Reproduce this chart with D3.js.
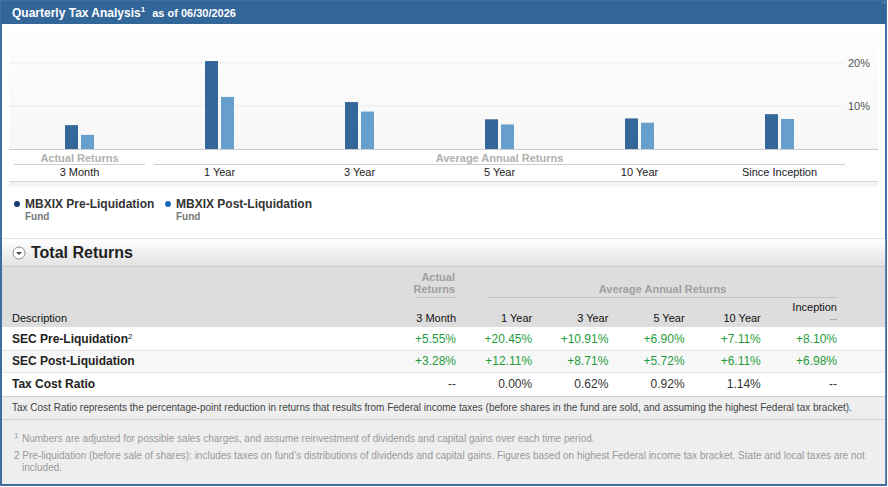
<!DOCTYPE html>
<html>
<head>
<meta charset="utf-8">
<script src="https://cdn.jsdelivr.net/npm/d3@7"></script>
<style>
body { margin:0; background:#fff; }
svg text { font-family: "Liberation Sans", Arial, sans-serif; }
</style>
</head>
<body>
<div id="chart"></div>
<script>
// values
const categories = ['3 Month','1 Year','3 Year','5 Year','10 Year','Since Inception'];
const preLiq  = [5.55, 20.45, 10.91, 6.90, 7.11, 8.10];
const postLiq = [3.28, 12.11, 8.71, 5.72, 6.11, 6.98];
const taxCost = [null, 0.00, 0.62, 0.92, 1.14, null];
const tableCols = ['3 Month','1 Year','3 Year','5 Year','10 Year','Inception'];
const yTicks = [10, 20];
const seriesNames = ['MBXIX Pre-Liquidation','MBXIX Post-Liquidation'];

const width = 888, height = 487;
const blue = '#336699', lightBlue = '#669ecc';

const svg = d3.select('#chart').append('svg')
    .attr('width', width).attr('height', height);

const defs = svg.append('defs');
let g1 = defs.append('linearGradient').attr('id','secGrad').attr('x1',0).attr('x2',0).attr('y1',0).attr('y2',1);
g1.append('stop').attr('offset','0%').attr('stop-color','#ffffff');
g1.append('stop').attr('offset','100%').attr('stop-color','#e2e2e2');
let g2 = defs.append('linearGradient').attr('id','plotGrad').attr('x1',0).attr('x2',0).attr('y1',0).attr('y2',1);
g2.append('stop').attr('offset','0%').attr('stop-color','#fdfdfd');
g2.append('stop').attr('offset','100%').attr('stop-color','#f7f7f7');

// frame + header
svg.append('rect').attr('x',1).attr('y',1).attr('width',width-3).attr('height',height-3)
    .attr('fill','#fff').attr('stroke',blue).attr('stroke-width',1.5);
svg.append('path')
    .attr('d', `M1,1 H${width-8} Q${width-2},1 ${width-2},7 V24 H1 Z`)
    .attr('fill', blue);
let title = svg.append('text').attr('x',12).attr('y',17).attr('fill','#fff')
    .style('font-size','12px').style('font-weight','bold');
title.append('tspan').text('Quarterly Tax Analysis');
title.append('tspan').attr('dy',-5).style('font-size','8px').text('1');
title.append('tspan').attr('dy',5).attr('dx',7).style('font-size','11px').text('as of 06/30/2026');

// ---- bar chart ----
const plotTop = 35, base = 149;
svg.append('rect').attr('x',9).attr('y',plotTop).attr('width',869).attr('height',base-plotTop)
    .attr('fill','url(#plotGrad)');

let scaleX = d3.scaleBand().domain(categories).range([9.5, 849.5]);
let scaleS = d3.scaleBand().domain(seriesNames).range([-14.5, 14.5]).paddingInner(0.1875);
let scaleY = d3.scaleLinear().domain([0, 20]).range([base, 63]);

svg.selectAll('.grid').data(yTicks).enter().append('line')
    .attr('x1', 9).attr('x2', 843)
    .attr('y1', d=>scaleY(d)).attr('y2', d=>scaleY(d))
    .style('stroke', '#ebebeb');

let yAxis = d3.axisRight(scaleY).tickValues(yTicks).tickSize(0).tickPadding(0).tickFormat(d=>d+'%');
let yAxisGroup = svg.append('g').attr('transform','translate(848,0)').call(yAxis);
yAxisGroup.select('.domain').remove();
yAxisGroup.selectAll('text').style('font-size','11px').style('fill','#555')
    .style('font-family','"Liberation Sans", Arial, sans-serif');

let rows = categories.map((c,i)=>({cat:c, vals:[preLiq[i], postLiq[i]]}));
let groups = svg.selectAll('.cat').data(rows).enter().append('g')
    .attr('transform', d=>'translate(' + (scaleX(d.cat)+scaleX.bandwidth()/2) + ',0)');
groups.selectAll('rect').data(d=>d.vals.map((v,j)=>({s:seriesNames[j], v:v})))
    .enter().append('rect')
    .attr('x', d=>scaleS(d.s))
    .attr('width', scaleS.bandwidth())
    .attr('y', d=>scaleY(d.v))
    .attr('height', d=>base - scaleY(d.v))
    .style('fill', (d,j)=> j==0 ? blue : lightBlue);

svg.append('line').attr('x1',9).attr('x2',878).attr('y1',base+0.5).attr('y2',base+0.5)
    .style('stroke','#cccccc');

// group headers under the axis
const chartGroups = [
    {label:'Actual Returns', cats:categories.slice(0,1)},
    {label:'Average Annual Returns', cats:categories.slice(1)}
];
chartGroups.forEach(g=>{
    let x0 = scaleX(g.cats[0]) + 4.5;
    let x1 = scaleX(g.cats[g.cats.length-1]) + scaleX.bandwidth() - 4.5;
    svg.append('text').attr('x',(x0+x1)/2).attr('y',162).attr('text-anchor','middle')
        .style('font-size','11px').style('font-weight','bold').style('fill','#b0b0b0').text(g.label);
    svg.append('line').attr('x1',x0).attr('x2',x1).attr('y1',164.5).attr('y2',164.5)
        .style('stroke','#cfcfcf');
});
let xAxis = d3.axisBottom(scaleX).tickSize(0).tickPadding(0);
let xAxisGroup = svg.append('g').attr('transform','translate(0,168)').call(xAxis);
xAxisGroup.select('.domain').remove();
xAxisGroup.selectAll('text').style('font-size','11px').style('fill','#222')
    .style('font-family','"Liberation Sans", Arial, sans-serif');

svg.append('rect').attr('x',9).attr('y',181).attr('width',869).attr('height',6).attr('fill','#f4f4f4');
svg.append('line').attr('x1',9).attr('x2',878).attr('y1',181.5).attr('y2',181.5).style('stroke','#d6d6d6');

// legend
const legendColors = ['#173b72', '#1a68c4'];
const legendX = [17, 168];
seriesNames.forEach((s,i)=>{
    svg.append('circle').attr('cx',legendX[i]).attr('cy',204).attr('r',3).attr('fill',legendColors[i]);
    svg.append('text').attr('x',legendX[i]+8).attr('y',208).style('font-size','12px')
        .style('font-weight','bold').style('fill','#333').text(s);
    svg.append('text').attr('x',legendX[i]+8).attr('y',220).style('font-size','10px')
        .style('font-weight','bold').style('fill','#777').text('Fund');
});

// ---- Total Returns section ----
svg.append('line').attr('x1',2).attr('x2',886).attr('y1',238.5).attr('y2',238.5).style('stroke','#e4e4e4');
svg.append('rect').attr('x',2).attr('y',239).attr('width',884).attr('height',27).attr('fill','url(#secGrad)');
svg.append('circle').attr('cx',19).attr('cy',253).attr('r',6).attr('fill','#fff')
    .attr('stroke','#8a8a8a').attr('stroke-width',1);
svg.append('path').attr('d','M16,252 L22,252 L19,255 Z').attr('fill','#444');
svg.append('text').attr('x',31).attr('y',258).style('font-size','16px').style('font-weight','bold')
    .style('fill','#222').text('Total Returns');

// table header
svg.append('rect').attr('x',2).attr('y',266).attr('width',884).attr('height',61).attr('fill','#dddddd');
svg.append('line').attr('x1',2).attr('x2',886).attr('y1',266.5).attr('y2',266.5).style('stroke','#c9c9c9');

let colX = d3.scalePoint().domain(tableCols).range([456, 837]);

svg.append('text').attr('x',12).attr('y',322).style('font-size','11px').style('fill','#111').text('Description');
tableCols.forEach((c,i)=>{
    let isInc = c == 'Inception';
    svg.append('text').attr('x',colX(c)).attr('y', isInc ? 311 : 322).attr('text-anchor','end')
        .style('font-size','11px').style('fill','#111').text(c);
});
svg.append('text').attr('x',colX('Inception')).attr('y',322).attr('text-anchor','end')
    .style('font-size','11px').style('fill','#999').text('--');

// table group headers
let tg0 = svg.append('text').attr('text-anchor','end').style('font-size','11px')
    .style('font-weight','bold').style('fill','#a0a0a0');
tg0.append('tspan').attr('x',colX('3 Month')-1).attr('y',281).text('Actual');
tg0.append('tspan').attr('x',colX('3 Month')-1).attr('y',293).text('Returns');
svg.append('line').attr('x1',colX('3 Month')-41).attr('x2',colX('3 Month')).attr('y1',297.5).attr('y2',297.5)
    .style('stroke','#c4c4c4');
let avgL = colX('1 Year') - 45, avgR = colX('Inception') + 1;
svg.append('text').attr('x',(avgL+avgR)/2).attr('y',293).attr('text-anchor','middle')
    .style('font-size','11px').style('font-weight','bold').style('fill','#a0a0a0').text('Average Annual Returns');
svg.append('line').attr('x1',avgL).attr('x2',avgR).attr('y1',297.5).attr('y2',297.5).style('stroke','#c4c4c4');

// table rows
const fmtSigned = v => (v >= 0 ? '+' : '') + v.toFixed(2) + '%';
const tableRows = [
    {label:'SEC Pre-Liquidation', sup:'2', vals:preLiq, fmt:fmtSigned, color:'#1f9d3c'},
    {label:'SEC Post-Liquidation', vals:postLiq, fmt:fmtSigned, color:'#1f9d3c'},
    {label:'Tax Cost Ratio', vals:taxCost, fmt:v=>v.toFixed(2)+'%', color:'#333'}
];
const rowTop = 327, rowH = 22.7;
tableRows.forEach((r,i)=>{
    let y0 = rowTop + i*rowH;
    svg.append('rect').attr('x',2).attr('y',y0).attr('width',884).attr('height',rowH)
        .attr('fill', i==1 ? '#f7f7f7' : '#fff');
    if (i>0) svg.append('line').attr('x1',2).attr('x2',886).attr('y1',Math.round(y0)+0.5).attr('y2',Math.round(y0)+0.5)
        .style('stroke','#e6e6e6');
    let t = svg.append('text').attr('x',12).attr('y',y0+15.5).style('font-size','12px')
        .style('font-weight','bold').style('fill','#222');
    t.append('tspan').text(r.label);
    if (r.sup) t.append('tspan').attr('dy',-4).style('font-size','8px').style('font-weight','normal').text(r.sup);
    r.vals.forEach((v,j)=>{
        svg.append('text').attr('x',colX(tableCols[j])).attr('y',y0+15.5).attr('text-anchor','end')
            .style('font-size','12px').style('fill', v==null ? '#333' : r.color)
            .text(v==null ? '--' : r.fmt(v));
    });
});

// notes
svg.append('rect').attr('x',2).attr('y',396).attr('width',884).attr('height',88).attr('fill','#eeeeee');
svg.append('line').attr('x1',2).attr('x2',886).attr('y1',396.5).attr('y2',396.5).style('stroke','#cfcfcf');
svg.append('line').attr('x1',2).attr('x2',886).attr('y1',419.5).attr('y2',419.5).style('stroke','#cfcfcf');
svg.append('text').attr('x',12).attr('y',411).style('font-size','10px').style('fill','#444')
    .text('Tax Cost Ratio represents the percentage-point reduction in returns that results from Federal income taxes (before shares in the fund are sold, and assuming the highest Federal tax bracket).');

let f1 = svg.append('text').attr('y',442).style('font-size','10px').style('fill','#999');
f1.append('tspan').attr('x',14).attr('dy',-4).style('font-size','8px').text('1');
f1.append('tspan').attr('x',22).attr('dy',4).text('Numbers are adjusted for possible sales charges, and assume reinvestment of dividends and capital gains over each time period.');
svg.append('text').attr('x',14).attr('y',459).style('font-size','10px').style('fill','#999')
    .text('2 Pre-liquidation (before sale of shares): includes taxes on fund\u2019s distributions of dividends and capital gains. Figures based on highest Federal income tax bracket. State and local taxes are not');
svg.append('text').attr('x',22).attr('y',471).style('font-size','10px').style('fill','#999').text('included.');

// redraw frame border on top
svg.append('rect').attr('x',1).attr('y',1).attr('width',width-3).attr('height',height-3)
    .attr('fill','none').attr('stroke',blue).attr('stroke-width',1.5);
</script>
</body>
</html>
